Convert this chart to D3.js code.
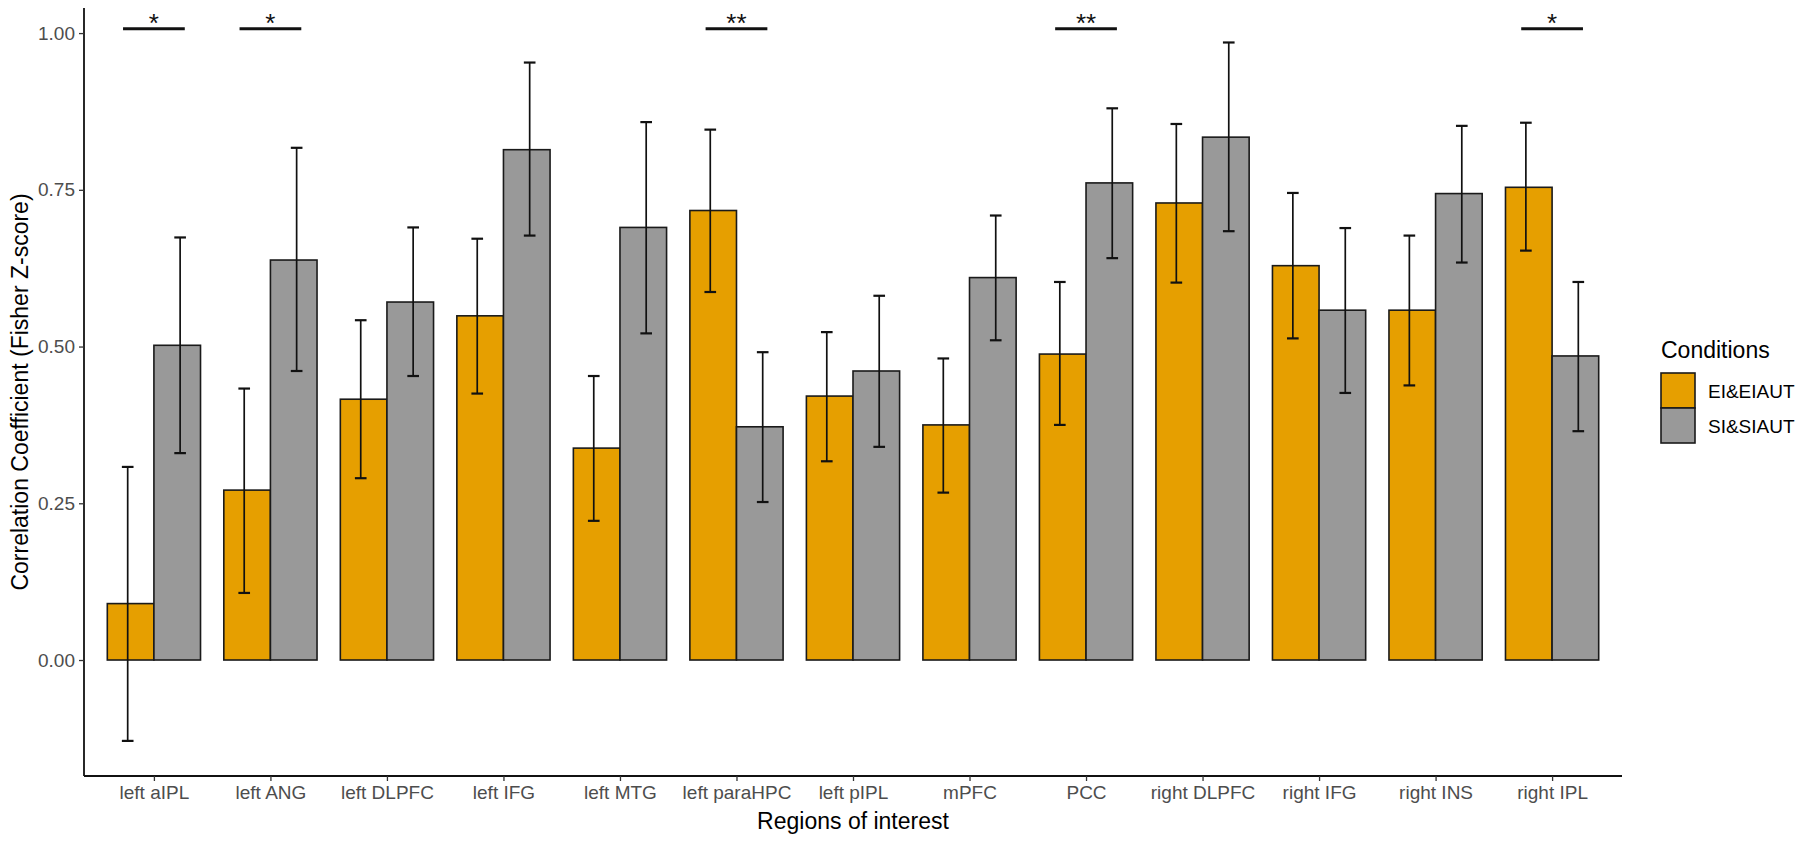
<!DOCTYPE html>
<html>
<head>
<meta charset="utf-8">
<script src="https://cdn.jsdelivr.net/npm/d3@7"></script>
<style>
  html, body { margin: 0; padding: 0; background: #fff; }
  svg { display: block; }
  text { font-family: "Liberation Sans", Arial, Helvetica, sans-serif; }
</style>
</head>
<body>
<svg id="chart" width="1800" height="841"></svg>
<script>
// ---- Data ----
const categories = ["left aIPL", "left ANG", "left DLPFC", "left IFG", "left MTG", "left paraHPC",
  "left pIPL", "mPFC", "PCC", "right DLPFC", "right IFG", "right INS", "right IPL"];
const seriesNames = ["EI&EIAUT", "SI&SIAUT"];
const eiMean  = [0.090, 0.271, 0.416, 0.549, 0.338, 0.717, 0.421, 0.375, 0.488, 0.729, 0.629, 0.558, 0.754];
const eiLow   = [-0.129, 0.107, 0.290, 0.425, 0.222, 0.587, 0.317, 0.267, 0.375, 0.602, 0.513, 0.438, 0.653];
const eiHigh  = [0.308, 0.433, 0.542, 0.672, 0.453, 0.846, 0.523, 0.481, 0.603, 0.855, 0.745, 0.677, 0.857];
const siMean  = [0.502, 0.638, 0.571, 0.814, 0.690, 0.372, 0.461, 0.610, 0.761, 0.834, 0.558, 0.744, 0.485];
const siLow   = [0.330, 0.461, 0.453, 0.677, 0.521, 0.252, 0.340, 0.510, 0.641, 0.684, 0.426, 0.634, 0.365];
const siHigh  = [0.674, 0.817, 0.690, 0.953, 0.858, 0.491, 0.581, 0.709, 0.880, 0.985, 0.689, 0.852, 0.603];
const sigCategories = ["left aIPL", "left ANG", "left paraHPC", "PCC", "right IPL"];
const sigLabels = ["*", "*", "**", "**", "*"];
const sigLevel = 1.007;
const yTicks = [0.00, 0.25, 0.50, 0.75, 1.00];
const colors = ["#E69F00", "#999999"];

// ---- Layout ----
const svg = d3.select("#chart");
const pLeft = 84, pRight = 1622, pTop = 8, pBottom = 776;

const x = d3.scalePoint().domain(categories).range([pLeft, pRight]).padding(0.6);
const step = x.step();
const y = d3.scaleLinear().domain([-0.185, 1.04]).range([pBottom, pTop]);

const series = [
  { name: seriesNames[0], mean: eiMean, low: eiLow, high: eiHigh, color: colors[0], off: -1 },
  { name: seriesNames[1], mean: siMean, low: siLow, high: siHigh, color: colors[1], off: 1 }
];

const g = svg.append("g");

// Bars
series.forEach(s => {
  g.selectAll(null).data(categories).enter().append("rect")
    .attr("x", (d) => s.off < 0 ? x(d) - 0.4 * step : x(d))
    .attr("width", 0.4 * step)
    .attr("y", (d, i) => Math.min(y(s.mean[i]), y(0)))
    .attr("height", (d, i) => Math.abs(y(s.mean[i]) - y(0)))
    .attr("fill", s.color)
    .attr("stroke", "#1a1a1a")
    .attr("stroke-width", 1.6);
});

// Error bars
series.forEach(s => {
  const eg = g.selectAll(null).data(categories).enter().append("g")
    .attr("stroke", "#111").attr("stroke-width", 1.7).attr("fill", "none");
  const cx = d => x(d) + s.off * 0.225 * step;
  const hw = 0.05 * step;
  eg.append("line").attr("x1", cx).attr("x2", cx)
    .attr("y1", (d, i) => y(s.low[i])).attr("y2", (d, i) => y(s.high[i]));
  eg.append("line").attr("x1", d => cx(d) - hw).attr("x2", d => cx(d) + hw)
    .attr("y1", (d, i) => y(s.high[i])).attr("y2", (d, i) => y(s.high[i])).attr("stroke-width", 2.2);
  eg.append("line").attr("x1", d => cx(d) - hw).attr("x2", d => cx(d) + hw)
    .attr("y1", (d, i) => y(s.low[i])).attr("y2", (d, i) => y(s.low[i])).attr("stroke-width", 2.2);
});

// Significance
sigCategories.forEach((c, i) => {
  g.append("line")
    .attr("x1", x(c) - 0.265 * step).attr("x2", x(c) + 0.265 * step)
    .attr("y1", y(sigLevel)).attr("y2", y(sigLevel))
    .attr("stroke", "#111").attr("stroke-width", 3);
  g.append("text")
    .attr("x", x(c)).attr("y", y(sigLevel) + 3)
    .attr("text-anchor", "middle")
    .attr("font-size", 26)
    .attr("fill", "#111")
    .text(sigLabels[i]);
});

// Axes
const yAxis = d3.axisLeft(y).tickValues(yTicks).tickFormat(d3.format(".2f")).tickSize(5).tickPadding(4);
const ya = svg.append("g").attr("transform", `translate(${pLeft},0)`).call(yAxis);
ya.select(".domain").attr("d", `M0,${pTop}V${pBottom}`).attr("stroke", "#111").attr("stroke-width", 1.8);
ya.selectAll(".tick line").attr("stroke", "#333").attr("stroke-width", 1.3);
ya.selectAll(".tick text").attr("font-size", 19).attr("fill", "#4D4D4D")
  .attr("font-family", "'Liberation Sans', Arial, sans-serif");

const xAxis = d3.axisBottom(x).tickSize(5).tickPadding(5);
const xa = svg.append("g").attr("transform", `translate(0,${pBottom})`).call(xAxis);
xa.select(".domain").attr("d", `M${pLeft},0H${pRight}`).attr("stroke", "#111").attr("stroke-width", 1.8);
xa.selectAll(".tick line").attr("stroke", "#333").attr("stroke-width", 1.3);
xa.selectAll(".tick text").attr("font-size", 19).attr("fill", "#4D4D4D")
  .attr("font-family", "'Liberation Sans', Arial, sans-serif");

// Axis titles
svg.append("text").attr("x", (pLeft + pRight) / 2).attr("y", 829)
  .attr("text-anchor", "middle").attr("font-size", 23).attr("fill", "#000")
  .text("Regions of interest");
svg.append("text")
  .attr("transform", `translate(28,${(pTop + pBottom) / 2}) rotate(-90)`)
  .attr("text-anchor", "middle").attr("font-size", 23).attr("fill", "#000")
  .text("Correlation Coefficient (Fisher Z-score)");

// Legend
const lg = svg.append("g").attr("transform", "translate(1661,0)");
lg.append("text").attr("x", 0).attr("y", 358).attr("font-size", 23).attr("fill", "#000").text("Conditions");
series.forEach((s, i) => {
  lg.append("rect").attr("x", 0).attr("y", 373 + i * 35).attr("width", 34).attr("height", 35)
    .attr("fill", s.color).attr("stroke", "#1a1a1a").attr("stroke-width", 1.6);
  lg.append("text").attr("x", 47).attr("y", 391 + i * 35).attr("dy", "0.35em")
    .attr("font-size", 19).attr("fill", "#000").text(s.name);
});
</script>
</body>
</html>
